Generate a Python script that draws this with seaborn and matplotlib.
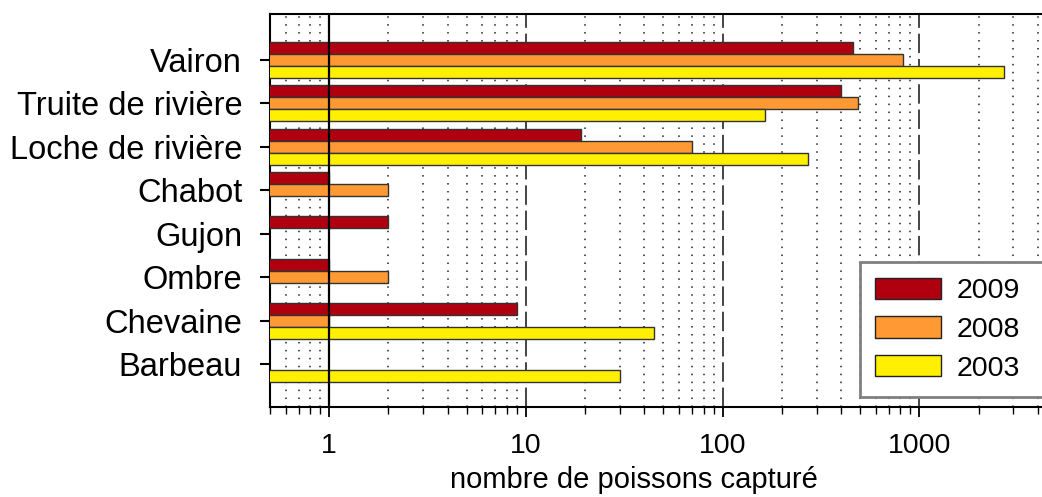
import numpy as np
import pandas as pd
import matplotlib
matplotlib.use("Agg")
import matplotlib.pyplot as plt
import seaborn as sns
from matplotlib.patches import Patch
from matplotlib.ticker import FixedLocator, NullFormatter

species = ["Vairon", "Truite de rivière", "Loche de rivière", "Chabot",
           "Gujon", "Ombre", "Chevaine", "Barbeau"]
years = ["2009", "2008", "2003"]
v2009 = [460, 400, 19, 1, 2, 1, 9, np.nan]
v2008 = [830, 490, 70, 2, np.nan, 2, 1, np.nan]
v2003 = [2700, 165, 272, np.nan, np.nan, np.nan, 45, 30]
colors = ["#B00010", "#FF9933", "#FFEF00"]
xticks = [1, 10, 100, 1000]
xticklabels = ["1", "10", "100", "1000"]

rows = []
for yr, vals in zip(years, [v2009, v2008, v2003]):
    for sp, v in zip(species, vals):
        if not np.isnan(v):
            rows.append({"espece": sp, "annee": yr, "n": v})
df = pd.DataFrame(rows)

sns.set_style("white")
plt.rcParams["font.family"] = ["Liberation Sans", "DejaVu Sans"]

fig = plt.figure(figsize=(10.42, 4.97), dpi=100)
ax = fig.add_axes([270 / 1042, 1 - 407 / 497, 1 - 270 / 1042, (407 - 14) / 497])

sns.barplot(data=df, y="espece", x="n", hue="annee", order=species,
            hue_order=years, palette=colors, saturation=1, orient="h",
            errorbar=None, width=0.83, edgecolor="#333333", linewidth=1.0,
            ax=ax, legend=False, zorder=3)
ax.set_xscale("log")
ax.set_xlim(0.5, 4200)
ax.set_ylim(7.98, -1.05)

# grid
minor = [m * 10 ** e for e in range(-1, 4) for m in range(2, 10)]
minor = [m for m in minor if 0.5 <= m <= 4200 and m not in xticks]
for m in minor:
    ax.axvline(m, color="#222222", lw=1.1, ls=(0, (1, 4.2)), zorder=1)
for m in [10, 100, 1000]:
    ax.axvline(m, color="#444444", lw=1.4, ls=(0, (10, 3)), zorder=1)
ax.axvline(1, color="black", lw=1.6, zorder=5)

ax.xaxis.set_major_locator(FixedLocator(xticks))
ax.set_xticklabels(xticklabels)
ax.xaxis.set_minor_locator(FixedLocator(minor))
ax.xaxis.set_minor_formatter(NullFormatter())
ax.tick_params(axis="x", which="major", direction="out", length=7, width=1.3,
               labelsize=20.5, pad=12, bottom=True, colors="black",
               labelcolor="black")
ax.tick_params(axis="x", which="minor", direction="out", length=5, width=1.0,
               bottom=True, colors="black")
ax.tick_params(axis="y", direction="out", length=7, width=1.5, left=True,
               labelsize=23.5, pad=13, colors="black", labelcolor="black")
ax.set_ylabel("")
ax.set_xlabel("nombre de poissons capturé", fontsize=21, labelpad=5,
              color="black")
ax.xaxis.label.set_x((634 - 270) / 772)

for s in ["top", "bottom", "left"]:
    ax.spines[s].set_visible(True)
    ax.spines[s].set_color("black")
    ax.spines[s].set_linewidth(1.5)
ax.spines["right"].set_visible(False)

handles = [Patch(facecolor=c, edgecolor="#222222", linewidth=1.0) for c in colors]
leg = ax.legend(handles, years, loc="lower left",
                bbox_to_anchor=(0.764, 0.025, 0.25, 0.352), mode="expand",
                fontsize=20.5, handlelength=2.3, handleheight=0.78,
                labelspacing=0.42, handletextpad=0.55, borderaxespad=0,
                borderpad=0.55, fancybox=False, framealpha=1, frameon=True)
leg.get_frame().set_edgecolor("#808080")
leg.get_frame().set_linewidth(2)
leg.set_zorder(10)
for t in leg.get_texts():
    t.set_color("black")

fig.savefig("out.png", dpi=100)
